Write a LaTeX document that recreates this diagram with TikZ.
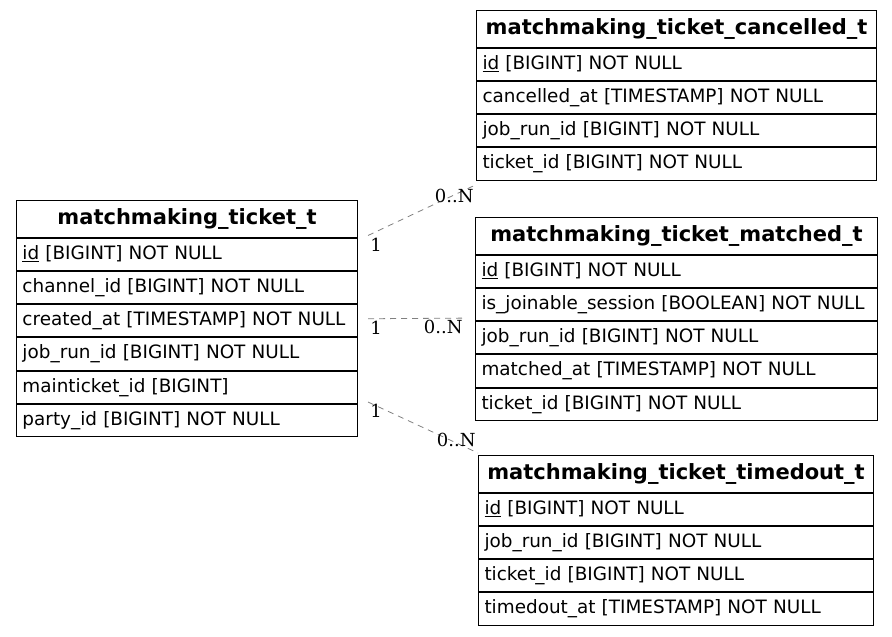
\documentclass[tikz,border=0pt]{standalone}
\usepackage{fontspec}
\setmainfont{DejaVu Sans}
\newfontfamily\lblfont{DejaVu Serif}
\usetikzlibrary{positioning}
\begin{document}
\begin{tikzpicture}[x=1pt,y=-1pt,
    hd/.style={draw,line width=1pt,text width=#1,align=center,inner xsep=6pt,inner ysep=0pt,minimum height=36.5pt,font=\fontsize{21}{22}\selectfont\bfseries},
    rw/.style={draw,line width=1pt,text width=#1,align=left,inner xsep=6pt,inner ysep=0pt,minimum height=32.3pt,font=\fontsize{18.4}{20}\selectfont},
    rel/.style={gray,dash pattern=on 6pt off 5pt,line width=0.8pt},
    card/.style={text=black,inner sep=2pt,font=\lblfont\fontsize{18}{20}\selectfont}]
    \useasboundingbox (0,0) rectangle (892,637);
    \node[hd=329pt,anchor=north west] (tk) at (16,200) {matchmaking\_ticket\_t};
    \node[rw=329pt,below=0pt of tk] (tkid) {\underline{id} [BIGINT] NOT NULL};
    \node[rw=329pt,below=0pt of tkid] (tkch) {channel\_id [BIGINT] NOT NULL};
    \node[rw=329pt,below=0pt of tkch] (tkcr) {created\_at [TIMESTAMP] NOT NULL};
    \node[rw=329pt,below=0pt of tkcr] (tkjo) {job\_run\_id [BIGINT] NOT NULL};
    \node[rw=329pt,below=0pt of tkjo] (tkma) {mainticket\_id [BIGINT]};
    \node[rw=329pt,below=0pt of tkma] (tkpa) {party\_id [BIGINT] NOT NULL};
    \node[hd=388pt,anchor=north west] (cn) at (476,10) {matchmaking\_ticket\_cancelled\_t};
    \node[rw=388pt,below=0pt of cn] (cnid) {\underline{id} [BIGINT] NOT NULL};
    \node[rw=388pt,below=0pt of cnid] (cnca) {cancelled\_at [TIMESTAMP] NOT NULL};
    \node[rw=388pt,below=0pt of cnca] (cnjo) {job\_run\_id [BIGINT] NOT NULL};
    \node[rw=388pt,below=0pt of cnjo] (cnti) {ticket\_id [BIGINT] NOT NULL};
    \node[hd=390pt,anchor=north west] (mt) at (475,217) {matchmaking\_ticket\_matched\_t};
    \node[rw=390pt,below=0pt of mt] (mtid) {\underline{id} [BIGINT] NOT NULL};
    \node[rw=390pt,below=0pt of mtid] (mtis) {is\_joinable\_session [BOOLEAN] NOT NULL};
    \node[rw=390pt,below=0pt of mtis] (mtjo) {job\_run\_id [BIGINT] NOT NULL};
    \node[rw=390pt,below=0pt of mtjo] (mtma) {matched\_at [TIMESTAMP] NOT NULL};
    \node[rw=390pt,below=0pt of mtma] (mtti) {ticket\_id [BIGINT] NOT NULL};
    \node[hd=383pt,anchor=north west] (to) at (478,455) {matchmaking\_ticket\_timedout\_t};
    \node[rw=383pt,below=0pt of to] (toid) {\underline{id} [BIGINT] NOT NULL};
    \node[rw=383pt,below=0pt of toid] (tojo) {job\_run\_id [BIGINT] NOT NULL};
    \node[rw=383pt,below=0pt of tojo] (toti) {ticket\_id [BIGINT] NOT NULL};
    \node[rw=383pt,below=0pt of toti] (tota) {timedout\_at [TIMESTAMP] NOT NULL};
    \draw[rel] ([xshift=10pt,yshift=2pt]tkid.north east)--([yshift=-4pt]cnti.south west)
        node[pos=0,card,anchor=north west]{1} node[pos=1,card,anchor=north east,yshift=-2pt]{0..N};
    \draw[rel] ([xshift=10pt,yshift=2pt]tkcr.east)--([xshift=-10pt,yshift=3pt]mtis.south west)
        node[pos=0,card,anchor=north west]{1} node[pos=1,card,anchor=north east]{0..N};
    \draw[rel] ([xshift=10pt,yshift=2pt]tkpa.north east)--([yshift=2pt]to.north west)
        node[pos=0,card,anchor=north west]{1} node[pos=1,card,anchor=south east,yshift=4pt]{0..N};
\end{tikzpicture}
\end{document}
